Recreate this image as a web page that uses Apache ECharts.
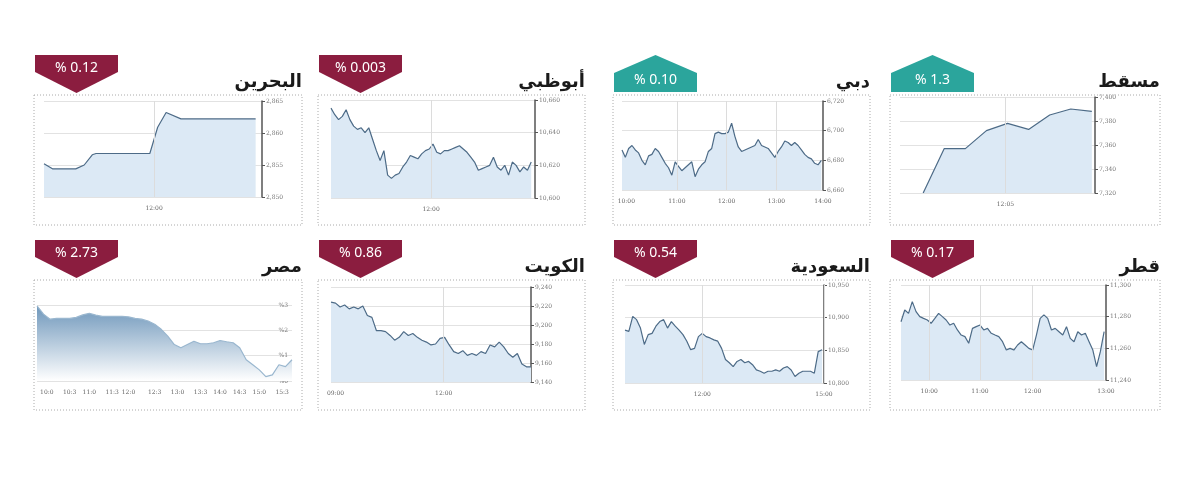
<!DOCTYPE html>
<html>
<head>
<meta charset="utf-8">
<script src="https://cdn.jsdelivr.net/npm/echarts@6/dist/echarts.min.js"></script>
<style>
  html, body { margin: 0; padding: 0; background: #fff; }
  #main { width: 1200px; height: 483px; }
</style>
</head>
<body>
<div id="main"></div>
<script>
// data
var names = ["البحرين", "أبوظبي", "دبي", "مسقط", "مصر", "الكويت", "السعودية", "قطر"];
var changes = ["% 0.12", "% 0.003", "% 0.10", "% 1.3", "% 2.73", "% 0.86", "% 0.54", "% 0.17"];
var upDown = ["down", "down", "up", "up", "down", "down", "down", "down"];

var bahrainX = [0, 4, 15, 19, 22.8, 24.6, 50, 53.7, 57.7, 64.7, 100];
var bahrainVals = [2855.2, 2854.4, 2854.4, 2855, 2856.6, 2856.8, 2856.8, 2860.9, 2863.2, 2862.2, 2862.2];

var abuDhabiVals = [10655, 10651, 10648, 10650, 10654, 10648, 10644, 10642, 10643, 10640, 10643, 10636, 10629, 10623,
  10629, 10614, 10612, 10614, 10615, 10619, 10622, 10626, 10625, 10624, 10627, 10629, 10630, 10633, 10628, 10627,
  10629, 10629, 10630, 10631, 10632, 10630, 10628, 10625, 10622, 10617, 10618, 10619, 10620, 10625, 10619, 10617,
  10620, 10614, 10622, 10620, 10616, 10619, 10617, 10622];

var dubaiVals = [6687, 6682, 6688, 6690, 6687, 6685, 6680, 6677, 6683, 6684, 6688, 6686, 6682, 6678, 6675, 6670,
  6679, 6676, 6673, 6675, 6677, 6679, 6669, 6674, 6677, 6679, 6686, 6688, 6698, 6699, 6698, 6698, 6699, 6705, 6696,
  6689, 6686, 6687, 6688, 6689, 6690, 6694, 6690, 6689, 6688, 6685, 6682, 6686, 6689, 6693, 6692, 6690, 6692, 6690,
  6687, 6684, 6682, 6681, 6678, 6677, 6680];

var muscatVals = [7320, 7357, 7357, 7372, 7378, 7373, 7385, 7390, 7388];

var egyptVals = [2.97, 2.64, 2.44, 2.47, 2.47, 2.47, 2.51, 2.61, 2.67, 2.6, 2.55, 2.55, 2.55, 2.55, 2.53, 2.47,
  2.44, 2.37, 2.24, 2.04, 1.77, 1.44, 1.31, 1.44, 1.57, 1.47, 1.47, 1.51, 1.6, 1.55, 1.51, 1.31, 0.84, 0.64, 0.44,
  0.17, 0.24, 0.64, 0.57, 0.84];

var kuwaitVals = [9224, 9223, 9219, 9221, 9217, 9219, 9217, 9220, 9210, 9208, 9194, 9194, 9193, 9189, 9184, 9187,
  9193, 9189, 9191, 9187, 9184, 9182, 9179, 9180, 9186, 9187, 9179, 9172, 9170, 9173, 9168, 9170, 9168, 9172, 9170,
  9179, 9177, 9182, 9177, 9170, 9166, 9170, 9159, 9156, 9156];

var saudiVals = [10881, 10879, 10902, 10897, 10884, 10859, 10874, 10876, 10887, 10894, 10897, 10884, 10894, 10887,
  10881, 10874, 10864, 10851, 10853, 10871, 10876, 10871, 10869, 10866, 10864, 10853, 10836, 10831, 10825, 10833,
  10836, 10831, 10833, 10828, 10820, 10818, 10815, 10818, 10818, 10820, 10818, 10823, 10825, 10820, 10810, 10815,
  10818, 10818, 10818, 10815, 10848, 10851];

var qatarVals = [11276.8, 11284.2, 11282.1, 11289.5, 11283.2, 11280, 11278.9, 11277.9, 11275.8, 11278.9, 11282.1,
  11280, 11277.9, 11274.7, 11275.8, 11271.6, 11268.4, 11267.4, 11263.2, 11272.6, 11273.7, 11274.7, 11271.6, 11272.6,
  11269.5, 11268.4, 11267.4, 11264.2, 11258.9, 11260, 11258.9, 11262.1, 11264.2, 11262.1, 11260, 11258.9, 11268.4,
  11278.9, 11281.1, 11278.9, 11271.6, 11272.6, 11270.5, 11268.4, 11273.7, 11266.3, 11264.2, 11270.5, 11268.4,
  11269.5, 11264.2, 11258.9, 11248.4, 11257.9, 11270.5];

var egyptTicks = ["%3", "%2", "%1", "%0"];
var egyptTimes = ["10:0", "10:3", "11:0", "11:3", "12:0", "12:3", "13:0", "13:3", "14:0", "14:3", "15:0", "15:3"];

function idx(vals) { return vals.map(function (v, i) { return [i, v]; }); }
function pairs(xs, ys) { return xs.map(function (x, i) { return [x, ys[i]]; }); }

var panels = [
  { data: pairs(bahrainX, bahrainVals), grid: [44, 101, 218, 96], x: [0, 103], y: [2850, 2865, 5],
    labels: [[52, "12:00"]], vlines: [52], box: [34, 95, 268, 130] },
  { data: idx(abuDhabiVals), grid: [331, 100, 204, 98], x: [0, 54], y: [10600, 10660, 20],
    labels: [[26.5, "12:00"]], vlines: [26.5], box: [318, 95, 267, 130] },
  { data: idx(dubaiVals), grid: [622, 101, 201, 89], x: [0, 60.5], y: [6660, 6720, 20],
    labels: [[1.3, "10:00"], [16.5, "11:00"], [31.5, "12:00"], [46.5, "13:00"], [60.5, "14:00"]],
    vlines: [16.5, 31.5, 46.5], box: [613, 95, 257, 130] },
  { data: idx(muscatVals), grid: [900, 97, 195, 96], x: [-1.1, 8.15], y: [7320, 7400, 20],
    labels: [[3.9, "12:05"]], vlines: [3.9], box: [890, 95, 270, 130] },
  { data: idx(egyptVals), grid: [37, 305, 255, 76], x: [0, 39], y: [0, 3, 1], egypt: true,
    labels: egyptTimes.map(function (t, i) { return [[1.5, 5, 8, 11.5, 14, 18, 21.5, 25, 28, 31, 34, 37.5][i], t]; }),
    vlines: [], box: [34, 280, 268, 130] },
  { data: idx(kuwaitVals), grid: [331, 287, 200, 95], x: [0, 44], y: [9140, 9240, 20],
    labels: [[1, "09:00"], [24.8, "12:00"]], vlines: [24.8], box: [318, 280, 267, 130] },
  { data: idx(saudiVals), grid: [625, 285, 199, 98], x: [0, 51.5], y: [10800, 10950, 50],
    labels: [[20, "12:00"], [51.5, "15:00"]], vlines: [20, 51.5], box: [613, 280, 257, 130] },
  { data: idx(qatarVals), grid: [901, 285, 205, 95], x: [0, 54.5], y: [11240, 11300, 20],
    labels: [[7.5, "10:00"], [21, "11:00"], [35, "12:00"], [54.5, "13:00"]], vlines: [7.5, 21, 35],
    box: [890, 280, 270, 130] }
];

var grids = [], xAxes = [], yAxes = [], series = [], graphics = [];

panels.forEach(function (p, i) {
  grids.push({ left: p.grid[0], top: p.grid[1], width: p.grid[2], height: p.grid[3] });
  xAxes.push({
    type: 'value', gridIndex: i, min: p.x[0], max: p.x[1],
    axisLine: { show: false }, axisTick: { show: false }, splitLine: { show: false },
    axisLabel: {
      customValues: p.labels.map(function (l) { return l[0]; }),
      formatter: function (v) {
        for (var k = 0; k < p.labels.length; k++) if (Math.abs(p.labels[k][0] - v) < 0.01) return p.labels[k][1];
        return '';
      },
      fontSize: 6, color: '#666', fontFamily: 'DejaVu Serif', margin: 8, hideOverlap: false
    }
  });
  yAxes.push({
    type: 'value', gridIndex: i, position: 'right', min: p.y[0], max: p.y[1], interval: p.y[2],
    axisLine: { show: !p.egypt, onZero: false, lineStyle: { color: '#555', width: 1.5 } },
    axisTick: { show: !p.egypt, length: 3, lineStyle: { color: '#555' } },
    splitLine: { lineStyle: { color: '#e2e2e2', width: 1 } },
    axisLabel: {
      fontSize: 6, color: '#777', fontFamily: 'DejaVu Serif', margin: 4, inside: !!p.egypt,
      formatter: function (v) {
        if (p.egypt) return egyptTicks[3 - v];
        return v.toLocaleString('en-US');
      }
    }
  });
  series.push({
    type: 'line', xAxisIndex: i, yAxisIndex: i, data: p.data, symbol: 'none', smooth: false,
    lineStyle: { color: p.egypt ? '#9ab7cf' : '#4d6b87', width: 1.2 },
    areaStyle: p.egypt ? {
      color: new echarts.graphic.LinearGradient(0, 0, 0, 1, [
        { offset: 0, color: '#6f97bb' }, { offset: 1, color: '#ffffff' }]),
      opacity: 1
    } : { color: '#dce9f5', opacity: 1 },
    markLine: {
      silent: true, symbol: 'none', label: { show: false },
      lineStyle: { color: '#dcdcdc', type: 'solid', width: 1 },
      data: p.vlines.map(function (v) { return { xAxis: v }; })
    }
  });

  // dotted frame
  graphics.push({
    type: 'rect', shape: { x: p.box[0], y: p.box[1], width: p.box[2], height: p.box[3] },
    style: { fill: 'none', stroke: '#aaa', lineWidth: 1, lineDash: [1, 2] }, z: 1
  });
  // title
  graphics.push({
    type: 'text', x: p.box[0] + p.box[2], y: p.box[1] - 4,
    style: { text: names[i], fill: '#1a1a1a', font: 'bold 18px "Noto Sans", "DejaVu Sans"', align: 'right', verticalAlign: 'bottom' }
  });
  // badge
  var bx = p.box[0] + 1, by = p.box[1] - 40, bw = 83;
  var pts, color, ty;
  if (upDown[i] === 'down') {
    pts = [[bx, by], [bx + bw, by], [bx + bw, by + 17], [bx + bw / 2, by + 38], [bx, by + 17]];
    color = '#8b1d3f'; ty = by + 13;
  } else {
    pts = [[bx, by + 37], [bx, by + 18], [bx + bw / 2, by], [bx + bw, by + 18], [bx + bw, by + 37]];
    color = '#2ba59c'; ty = by + 25;
  }
  graphics.push({ type: 'polygon', shape: { points: pts }, style: { fill: color } });
  graphics.push({
    type: 'text', x: bx + bw / 2, y: ty,
    style: { text: changes[i], fill: '#fff', font: '14px "Noto Sans", "DejaVu Sans"', align: 'center', verticalAlign: 'middle' }
  });
});

var myChart = echarts.init(document.getElementById('main'));
myChart.setOption({
  animation: false,
  grid: grids,
  xAxis: xAxes,
  yAxis: yAxes,
  series: series,
  graphic: graphics
});
</script>
</body>
</html>
